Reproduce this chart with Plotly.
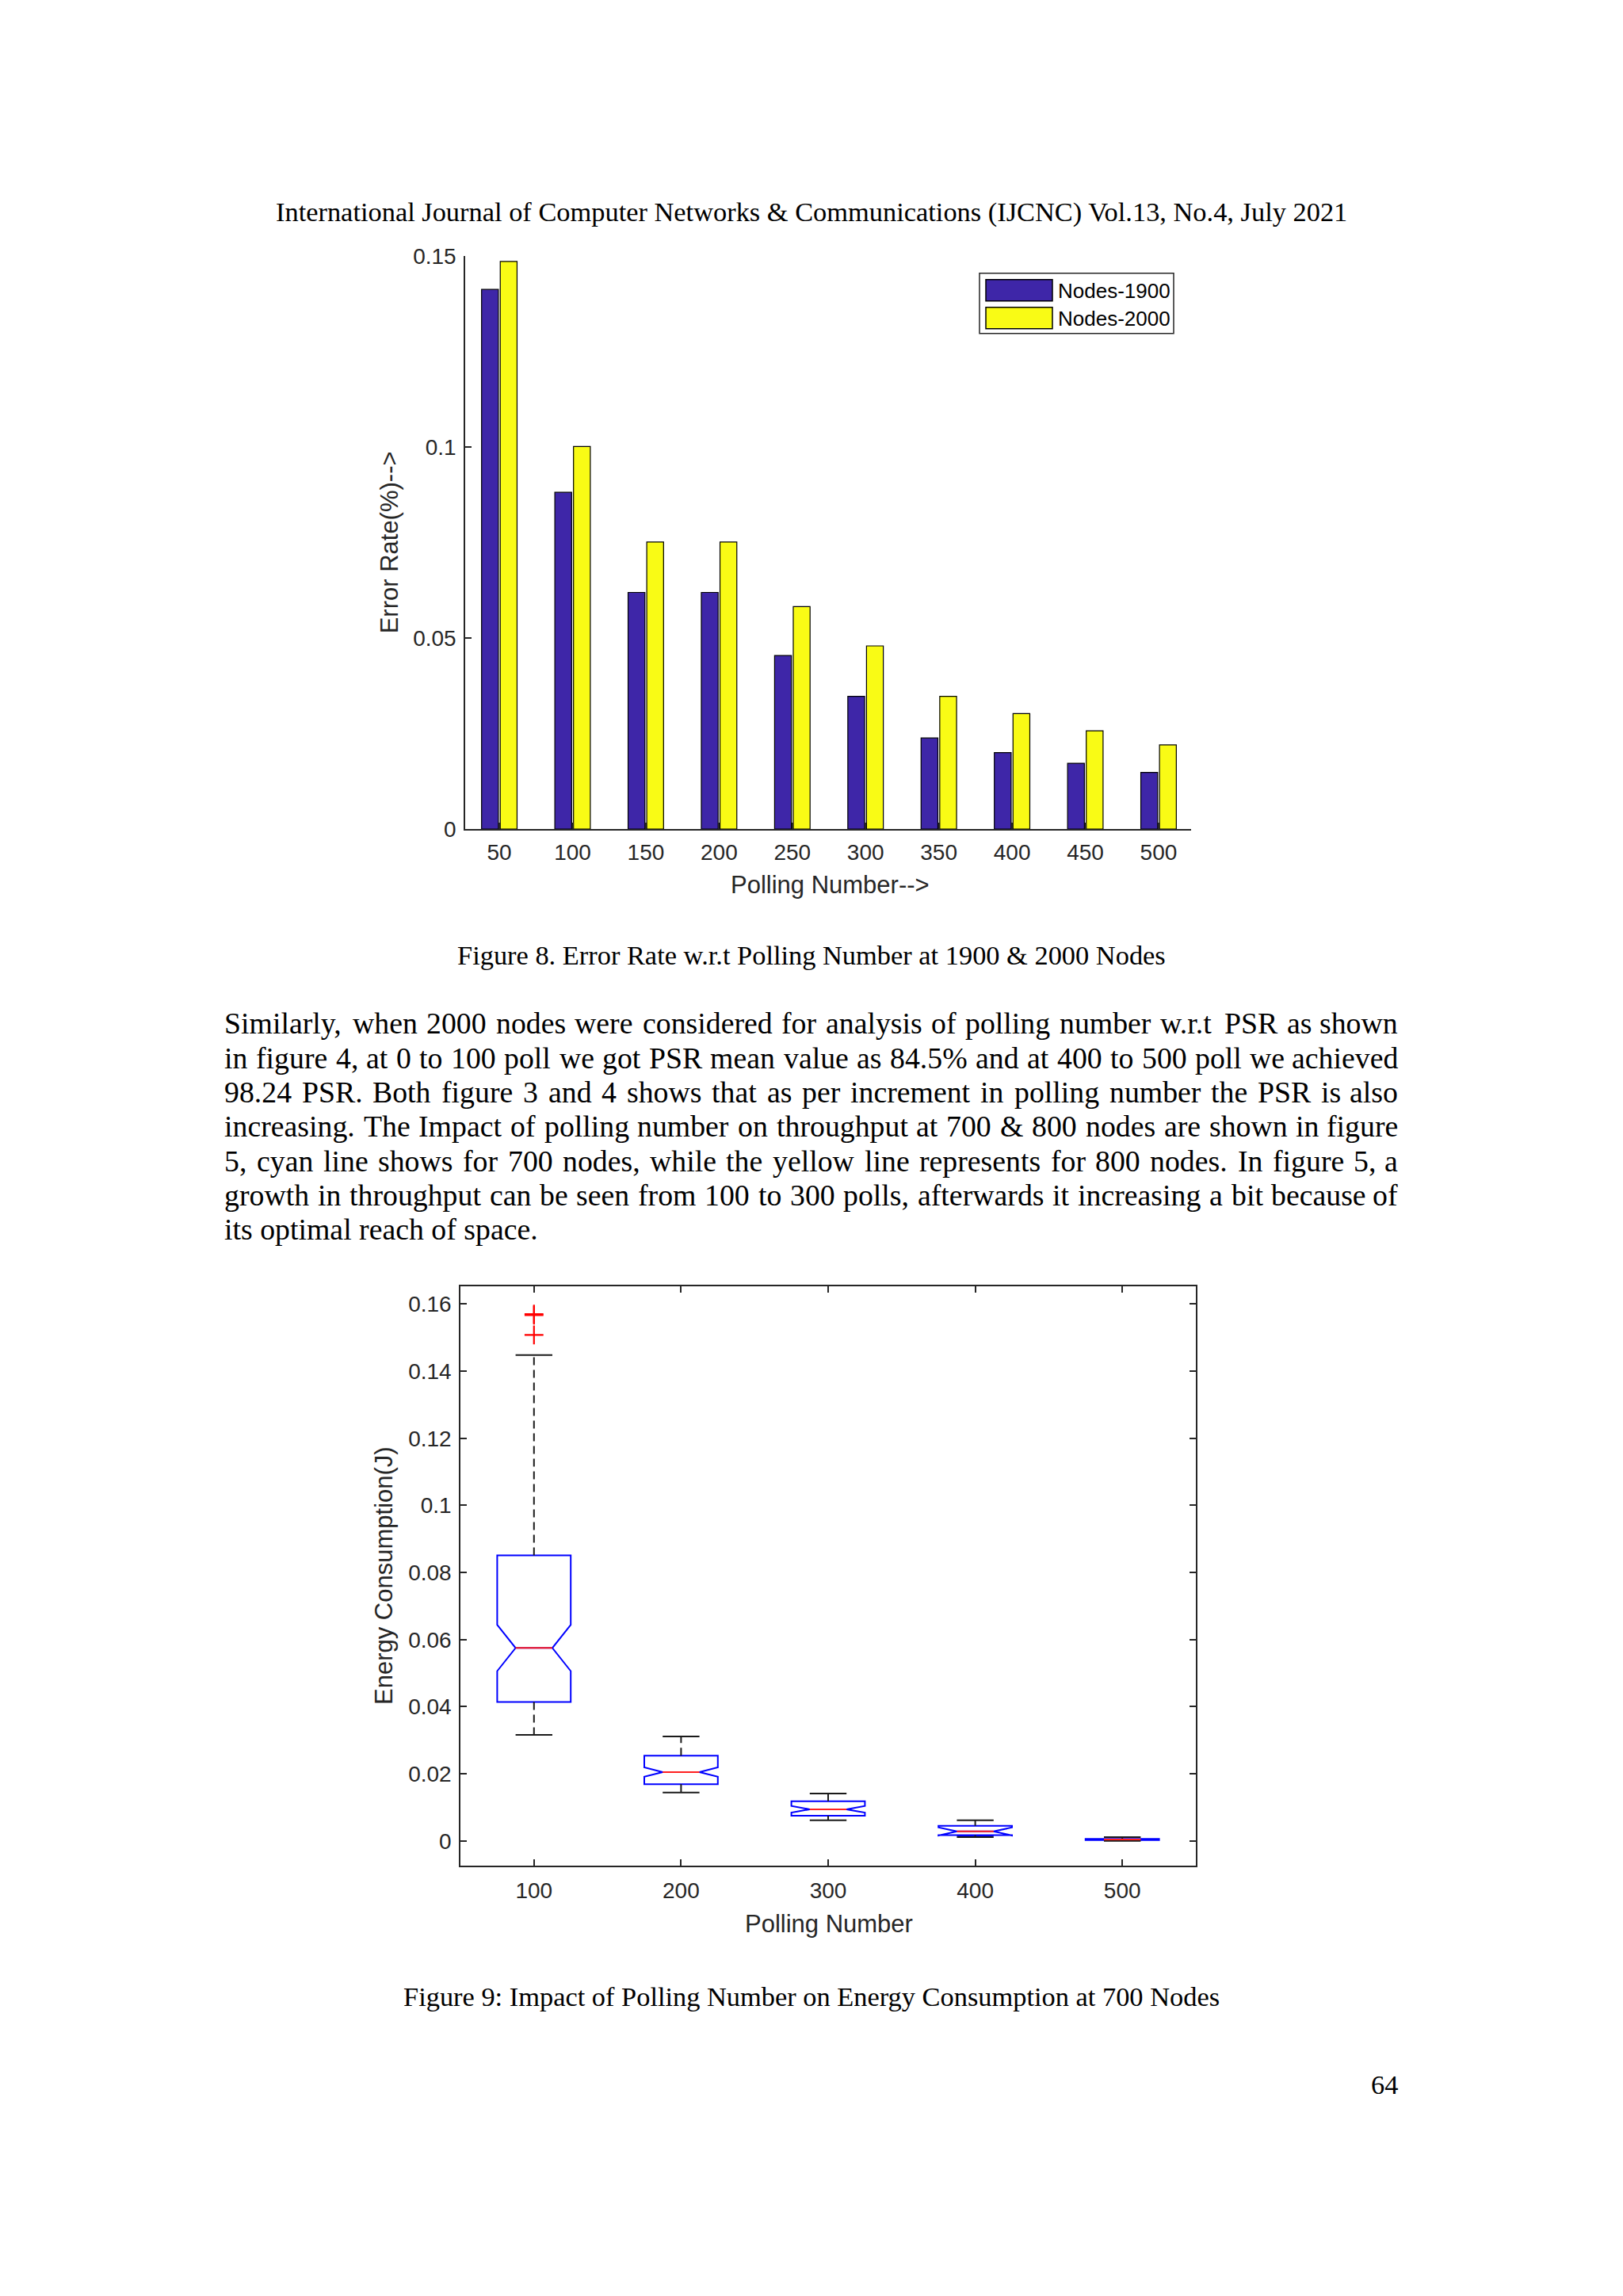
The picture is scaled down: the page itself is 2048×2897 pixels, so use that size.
import plotly.graph_objects as go

W, H = 2048, 2897

# ---------------- data: Figure 8 (bar chart) ----------------
polling = [50, 100, 150, 200, 250, 300, 350, 400, 450, 500]
err_1900 = [0.1412, 0.0881, 0.0619, 0.0619, 0.0454, 0.0347, 0.0238, 0.0200, 0.0172, 0.0148]
err_2000 = [0.1485, 0.1001, 0.0751, 0.0751, 0.0582, 0.0479, 0.0347, 0.0302, 0.0257, 0.0220]
series_names = ["Nodes-1900", "Nodes-2000"]
series_colors = ["#3E26A8", "#F9FB15"]
err_ticks = [0, 0.05, 0.1, 0.15]
err_tick_text = ["0", "0.05", "0.1", "0.15"]

# ---------------- data: Figure 9 (notched box plot) ----------------
box_pos = [100, 200, 300, 400, 500]
box_q1 = [0.0414, 0.0169, 0.0075, 0.0017, 0.0002]
box_median = [0.0575, 0.0205, 0.0094, 0.0028, 0.0004]
box_q3 = [0.0851, 0.0254, 0.0118, 0.0045, 0.0006]
box_low = [0.0316, 0.0144, 0.0061, 0.0011, 0.0000]
box_high = [0.1448, 0.0311, 0.0141, 0.0061, 0.0011]
box_notch = [0.0069, 0.0014, 0.0010, 0.0012, 0.0001]
outlier_x = [100, 100, 100]
outlier_y = [0.1570, 0.1567, 0.1508]
energy_ticks = [0, 0.02, 0.04, 0.06, 0.08, 0.10, 0.12, 0.14, 0.16]
energy_tick_text = ["0", "0.02", "0.04", "0.06", "0.08", "0.1", "0.12", "0.14", "0.16"]

# ---------------- page text ----------------
header_text = "International Journal of Computer Networks & Communications (IJCNC) Vol.13, No.4, July 2021"
caption8 = "Figure 8. Error Rate w.r.t Polling Number at 1900 & 2000 Nodes"
caption9 = "Figure 9: Impact of Polling Number on Energy Consumption at 700 Nodes"
page_number = "64"
paragraph_lines = [
    "Similarly, when 2000 nodes were considered for analysis of polling number w.r.t PSR as shown",
    "in figure 4, at 0 to 100 poll we got PSR mean value as 84.5% and at 400 to 500 poll we achieved",
    "98.24 PSR. Both figure 3 and 4 shows that as per increment in polling number the PSR is also",
    "increasing. The Impact of polling number on throughput at 700 & 800 nodes are shown in figure",
    "5, cyan line shows for 700 nodes, while the yellow line represents for 800 nodes. In figure 5, a",
    "growth in throughput can be seen from 100 to 300 polls, afterwards it increasing a bit because of",
    "its optimal reach of space.",
]

# ---------------- style ----------------
SERIF = "Liberation Serif, Times New Roman, serif"
SANS = "Liberation Sans, Arial, sans-serif"
AXIS_COLOR = "#262626"
TICK_SIZE = 28
LABEL_SIZE = 31
LEGEND_SIZE = 26
BODY_SIZE = 37.8
CAPTION_SIZE = 34.4


def Y(y):
    # vertical page calibration
    return 1.00975 * y - 13.06


def px(x):
    return x / W


def py(y):
    return 1 - y / H


# Times/Liberation Serif advance widths (1/1000 em) for justification
TNR = {" ": 250, "!": 333, "%": 833, "&": 778, "(": 333, ")": 333, ",": 250, "-": 333, ".": 250,
       ":": 278, ";": 278, "A": 722, "B": 667, "C": 667, "D": 722, "E": 611, "F": 556, "G": 722,
       "H": 722, "I": 333, "J": 389, "K": 722, "L": 611, "M": 889, "N": 722, "O": 722, "P": 556,
       "Q": 722, "R": 667, "S": 556, "T": 611, "U": 722, "V": 722, "W": 944, "X": 722, "Y": 722,
       "Z": 611, "a": 444, "b": 500, "c": 444, "d": 500, "e": 444, "f": 333, "g": 500, "h": 500,
       "i": 278, "j": 278, "k": 500, "l": 278, "m": 778, "n": 500, "o": 500, "p": 500, "q": 500,
       "r": 333, "s": 389, "t": 278, "u": 500, "v": 500, "w": 722, "x": 500, "y": 500, "z": 444}


def tw(s, size):
    return sum(TNR.get(c, 500) for c in s) / 1000.0 * size


def note(x, y, text, size, family, color="#000000", xanchor="center", angle=0):
    return dict(x=px(x), y=py(y), text=text, xanchor=xanchor, yanchor="middle", textangle=angle,
                showarrow=False, xref="paper", yref="paper", borderpad=0,
                font=dict(family=family, size=size, color=color))


fig = go.Figure()

# ---- Figure 8 bars ----
for name, vals, col in zip(series_names, [err_1900, err_2000], series_colors):
    fig.add_trace(go.Bar(x=polling, y=vals, name=name,
                         marker=dict(color=col, line=dict(color="#000000", width=1.2)),
                         xaxis="x", yaxis="y", showlegend=False))

# ---- Figure 9 boxes ----
BOX_WIDTH = 50
cap_half = BOX_WIDTH / 4
wx, wy, cx, cy, mx, my = [], [], [], [], [], []
for p, lo, a, m, b, hi in zip(box_pos, box_low, box_q1, box_median, box_q3, box_high):
    wx += [p, p, None, p, p, None]
    wy += [b, hi, None, a, lo, None]
    cx += [p - cap_half, p + cap_half, None, p - cap_half, p + cap_half, None]
    cy += [hi, hi, None, lo, lo, None]
    mx += [p - cap_half, p + cap_half, None]
    my += [m, m, None]

fig.add_trace(go.Scatter(x=wx, y=wy, mode="lines", line=dict(color="#1a1a1a", width=2, dash="10px,6px"),
                         xaxis="x2", yaxis="y2", showlegend=False, hoverinfo="skip"))
fig.add_trace(go.Scatter(x=cx, y=cy, mode="lines", line=dict(color="#1a1a1a", width=2),
                         xaxis="x2", yaxis="y2", showlegend=False, hoverinfo="skip"))
fig.add_trace(go.Box(x=box_pos, q1=box_q1, median=box_median, q3=box_q3,
                     lowerfence=box_q1, upperfence=box_q3, notchspan=box_notch,
                     notched=True, notchwidth=0.25, width=BOX_WIDTH, boxpoints=False,
                     line=dict(color="#0000FF", width=2), fillcolor="rgba(255,255,255,0)",
                     xaxis="x2", yaxis="y2", showlegend=False))
fig.add_trace(go.Scatter(x=mx, y=my, mode="lines", line=dict(color="#FF2020", width=2),
                         xaxis="x2", yaxis="y2", showlegend=False, hoverinfo="skip"))
fig.add_trace(go.Scatter(x=outlier_x, y=outlier_y, mode="markers",
                         marker=dict(symbol="cross-thin", size=17, color="#FF0000",
                                     line=dict(color="#FF0000", width=2.2)),
                         xaxis="x2", yaxis="y2", showlegend=False))

axis_common = dict(showline=True, linecolor=AXIS_COLOR, linewidth=1.5, ticks="inside", ticklen=8,
                   tickwidth=1.5, tickcolor=AXIS_COLOR, showgrid=False, zeroline=False,
                   tickfont=dict(family=SANS, size=TICK_SIZE, color=AXIS_COLOR))

fig.update_layout(
    width=W, height=H, margin=dict(l=0, r=0, t=0, b=0),
    paper_bgcolor="white", plot_bgcolor="white",
    bargap=0.49, bargroupgap=0.1, barmode="group",
    xaxis=dict(domain=[px(587), px(1503)], range=[26.7, 522.2], tickvals=polling,
               ticklabelstandoff=4, anchor="y", **axis_common),
    yaxis=dict(domain=[py(Y(1045)), py(Y(321))], range=[0, 0.15], tickvals=err_ticks,
               ticktext=err_tick_text, ticklabelstandoff=4, anchor="x", **axis_common),
    xaxis2=dict(domain=[px(581), px(1509)], range=[50, 550], tickvals=box_pos, mirror="ticks",
                ticklabelstandoff=6, anchor="y2", **axis_common),
    yaxis2=dict(domain=[py(Y(2354)), py(Y(1623))], range=[-0.0073, 0.1652], tickvals=energy_ticks,
                ticktext=energy_tick_text, mirror="ticks", ticklabelstandoff=4, anchor="x2", **axis_common),
)

ann = []
shapes = []

# axis titles
ann.append(note(491, Y(683), "Error Rate(%)-->", LABEL_SIZE, SANS, AXIS_COLOR, angle=-90))
ann.append(note(1047, 1113, "Polling Number-->", LABEL_SIZE, SANS, AXIS_COLOR))
ann.append(note(485, Y(1988), "Energy Consumption(J)", LABEL_SIZE, SANS, AXIS_COLOR, angle=-90))
ann.append(note(1046, 2439, "Polling Number", LABEL_SIZE, SANS, AXIS_COLOR))

# legend box (MATLAB style)
LEG_X0, LEG_X1, LEG_Y0, LEG_Y1 = 1236, 1481, 343, 419
shapes.append(dict(type="rect", xref="paper", yref="paper", x0=px(LEG_X0), x1=px(LEG_X1),
                   y0=py(Y(LEG_Y1)), y1=py(Y(LEG_Y0)), line=dict(color=AXIS_COLOR, width=1.5),
                   fillcolor="white"))
SW_TOPS = [351, 386]
for name, col, top in zip(series_names, series_colors, SW_TOPS):
    shapes.append(dict(type="rect", xref="paper", yref="paper", x0=px(LEG_X0 + 8), x1=px(LEG_X0 + 92),
                       y0=py(Y(top + 27)), y1=py(Y(top)), line=dict(color="#000000", width=1.5),
                       fillcolor=col))
    ann.append(note(LEG_X0 + 98, Y(top + 14), name, LEGEND_SIZE, SANS, "#000000", xanchor="left"))

# header, captions, page number
CENTER_X = 1024
ann.append(note(CENTER_X, 255, header_text, CAPTION_SIZE, SERIF))
ann.append(note(CENTER_X, 1203, caption8, CAPTION_SIZE, SERIF))
ann.append(note(CENTER_X, 2531, caption9, CAPTION_SIZE, SERIF))

# justified paragraph
TX0, TX1 = 282, 1765
ann.append(note(TX1, 2643, page_number, CAPTION_SIZE, SERIF, xanchor="right"))
LINE0, LINE_STEP = 1290, 43.8
for i, line in enumerate(paragraph_lines):
    yy = LINE0 + i * LINE_STEP
    words = line.split(" ")
    if i == len(paragraph_lines) - 1 or len(words) < 2:
        ann.append(note(TX0, yy, line, BODY_SIZE, SERIF, xanchor="left"))
        continue
    widths = [tw(w, BODY_SIZE) for w in words]
    gap = (TX1 - TX0 - sum(widths)) / (len(words) - 1)
    xcur = TX0
    for j, (w, wd) in enumerate(zip(words, widths)):
        if j == len(words) - 1:
            ann.append(note(TX1, yy, w, BODY_SIZE, SERIF, xanchor="right"))
        else:
            ann.append(note(xcur, yy, w, BODY_SIZE, SERIF, xanchor="left"))
        xcur += wd + gap

fig.update_layout(annotations=ann, shapes=shapes)
fig.write_html("out.html", config={"displayModeBar": False},
               post_script="document.body.style.margin='0px';")
